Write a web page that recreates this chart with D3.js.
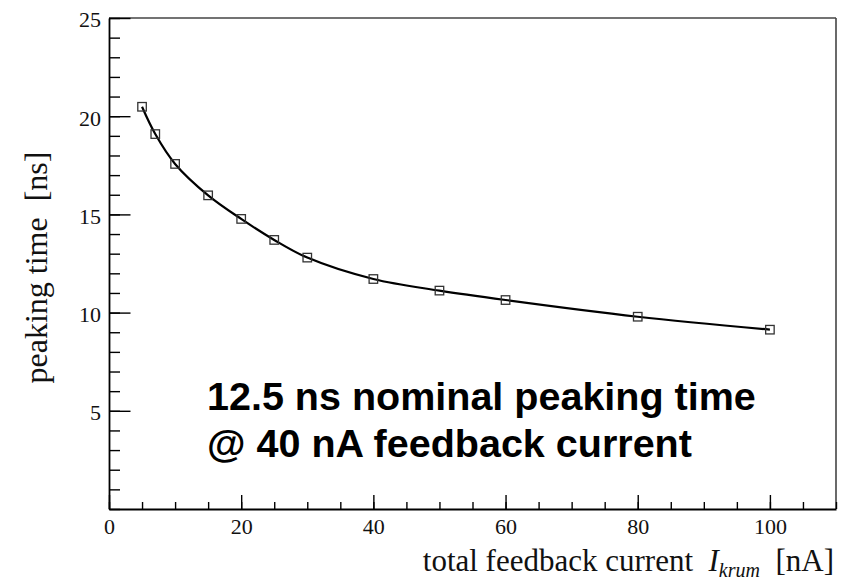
<!DOCTYPE html>
<html><head><meta charset="utf-8">
<script src="https://cdn.jsdelivr.net/npm/d3@7"></script>
<style>body{margin:0;background:#fff}</style>
</head><body>
<svg id="c" width="852" height="584"></svg>
<script>
const currents = [5, 7, 10, 15, 20, 25, 30, 40, 50, 60, 80, 100];
const peakingTimes = [20.48, 19.09, 17.57, 15.97, 14.77, 13.70, 12.80, 11.71, 11.12, 10.64, 9.79, 9.13];
const xMajorTicks = [0, 20, 40, 60, 80, 100];
const yMajorTicks = [5, 10, 15, 20, 25];
const annotationLines = ["12.5 ns nominal peaking time", "@ 40 nA feedback current"];
const yTitle = "peaking time\u00A0\u00A0[ns]";

const svg = d3.select("#c");
const L = 109, R = 836, T = 18, B = 509;
const x = d3.scaleLinear().domain([0, 110]).range([L, R]);
const y = d3.scaleLinear().domain([0, 25]).range([B, T]);
const serif = "'Liberation Serif','Times New Roman',serif";

// frame top/right
svg.append("line").attr("x1", L).attr("x2", R).attr("y1", T).attr("y2", T)
  .attr("stroke", "#444").attr("stroke-width", 1.6);
svg.append("line").attr("x1", R).attr("x2", R).attr("y1", T).attr("y2", B)
  .attr("stroke", "#444").attr("stroke-width", 1.6);

// minor ticks
svg.append("g").attr("transform", `translate(0,${B})`)
  .call(d3.axisBottom(x).tickValues(d3.range(0, 111, 5)).tickSize(-7).tickSizeOuter(0).tickFormat(""))
  .call(g => g.select(".domain").remove())
  .selectAll("line").attr("stroke", "#000").attr("stroke-width", 1.4);
svg.append("g").attr("transform", `translate(${L},0)`)
  .call(d3.axisLeft(y).tickValues(d3.range(0, 26, 1)).tickSize(-11).tickSizeOuter(0).tickFormat(""))
  .call(g => g.select(".domain").remove())
  .selectAll("line").attr("stroke", "#000").attr("stroke-width", 1.4);

// major axes
const gx = svg.append("g").attr("transform", `translate(0,${B})`)
  .call(d3.axisBottom(x).tickValues(xMajorTicks).tickSize(-14).tickSizeOuter(0).tickPadding(9).tickFormat(d3.format("d")));
gx.select(".domain").attr("stroke", "#000").attr("stroke-width", 1.8);
gx.selectAll("line").attr("stroke", "#000").attr("stroke-width", 1.4);
gx.selectAll("text").attr("font-family", serif).attr("font-size", 22).attr("fill", "#111");

const gy = svg.append("g").attr("transform", `translate(${L},0)`)
  .call(d3.axisLeft(y).tickValues(yMajorTicks).tickSize(-21.5).tickSizeOuter(0).tickPadding(8).tickFormat(d3.format("d")));
gy.select(".domain").attr("stroke", "#000").attr("stroke-width", 1.8);
gy.selectAll("line").attr("stroke", "#000").attr("stroke-width", 1.4);
gy.selectAll("text").attr("font-family", serif).attr("font-size", 22).attr("fill", "#111").attr("dy", "0.4em");

// curve
const line = d3.line().x((d, i) => x(currents[i])).y(d => y(d)).curve(d3.curveCatmullRom.alpha(0.5));
svg.append("path").datum(peakingTimes).attr("d", line)
  .attr("fill", "none").attr("stroke", "#000").attr("stroke-width", 2.2);

// markers
const ms = 8.5;
svg.append("g").selectAll("rect").data(peakingTimes).join("rect")
  .attr("x", (d, i) => x(currents[i]) - ms / 2).attr("y", d => y(d) - ms / 2)
  .attr("width", ms).attr("height", ms)
  .attr("fill", "none").attr("stroke", "#333").attr("stroke-width", 1.3);

// axis titles
const xt = svg.append("text").attr("x", 834).attr("y", 571).attr("text-anchor", "end")
  .attr("font-family", serif).attr("font-size", 31).attr("fill", "#111").style("white-space", "pre");
xt.append("tspan").text("total feedback current  ");
xt.append("tspan").attr("font-style", "italic").text("I");
xt.append("tspan").attr("font-style", "italic").attr("font-size", 20).attr("dy", 6).text("krum");
xt.append("tspan").attr("dy", -6).text("  [nA]");

svg.append("text").attr("transform", `translate(47,${(T + B) / 2 + 4}) rotate(-90)`)
  .attr("text-anchor", "middle").attr("font-family", serif).attr("font-size", 32)
  .attr("fill", "#111").text(yTitle);

// annotation
svg.append("g").selectAll("text").data(annotationLines).join("text")
  .attr("x", 207).attr("y", (d, i) => 410 + i * 46.7)
  .attr("font-family", "'Liberation Sans',Arial,sans-serif").attr("font-weight", "bold")
  .attr("font-size", 39.5).attr("fill", "#000").text(d => d);
</script>
</body></html>
